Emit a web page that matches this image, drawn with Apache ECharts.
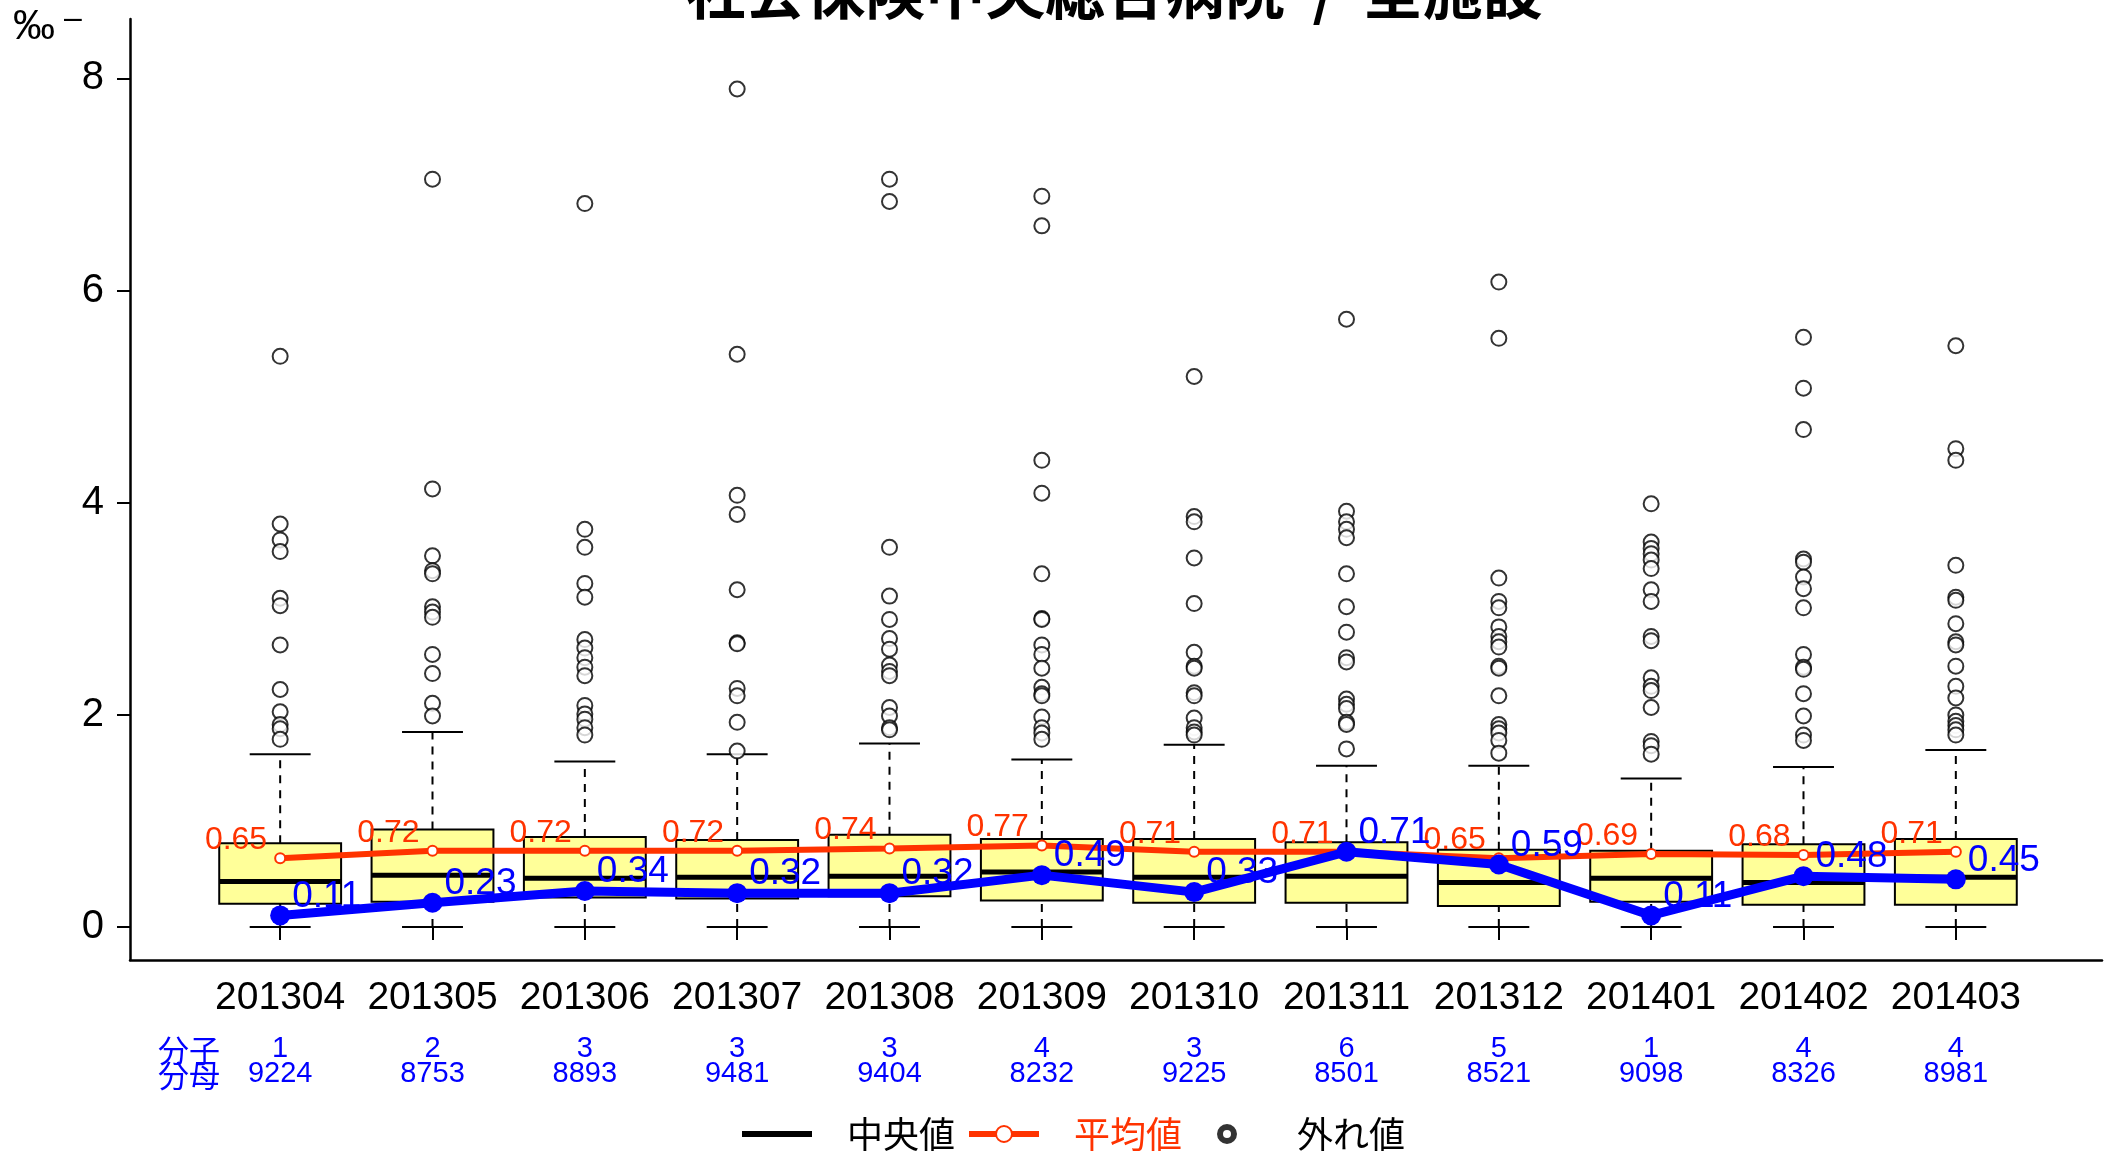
<!DOCTYPE html>
<html>
<head>
<meta charset="utf-8">
<script src="https://cdn.jsdelivr.net/npm/echarts@6/dist/echarts.min.js"></script>
<style>
html,body{margin:0;padding:0;background:#fff;}
#chart{width:2109px;height:1155px;}
</style>
</head>
<body>
<div id="chart"></div>
<script>
// ---- data ----
const categories = ['201304','201305','201306','201307','201308','201309','201310','201311','201312','201401','201402','201403'];
const numerators = [1,2,3,3,3,4,3,6,5,1,4,4];
const denominators = [9224,8753,8893,9481,9404,8232,9225,8501,8521,9098,8326,8981];
const whiskerLow = [0,0,0,0,0,0,0,0,0,0,0,0];
const q1Values = [0.22,0.24,0.28,0.27,0.29,0.25,0.23,0.23,0.20,0.24,0.21,0.21];
const medianValues = [0.43,0.49,0.46,0.47,0.48,0.52,0.47,0.48,0.42,0.46,0.42,0.47];
const q3Values = [0.79,0.92,0.85,0.82,0.87,0.83,0.83,0.80,0.73,0.72,0.78,0.83];
const whiskerHigh = [1.63,1.84,1.56,1.63,1.73,1.58,1.72,1.52,1.52,1.40,1.51,1.67];
const meanValues = [0.65,0.72,0.72,0.72,0.74,0.77,0.71,0.71,0.65,0.69,0.68,0.71];
const hospitalValues = [0.11,0.23,0.34,0.32,0.32,0.49,0.33,0.71,0.59,0.11,0.48,0.45];
const outlierValues = [
  [5.38,3.80,3.65,3.54,3.10,3.03,2.66,2.24,2.03,1.91,1.87,1.77],
  [7.05,4.13,3.50,3.36,3.33,3.02,2.97,2.92,2.57,2.39,2.11,1.99],
  [6.82,3.75,3.58,3.24,3.11,2.71,2.63,2.54,2.45,2.37,2.09,2.01,1.96,1.88,1.81],
  [7.90,5.40,4.07,3.89,3.18,2.68,2.67,2.25,2.18,1.93,1.66],
  [7.05,6.84,3.58,3.12,2.90,2.72,2.62,2.47,2.41,2.37,2.07,1.99,1.88,1.86],
  [6.89,6.61,4.40,4.09,3.33,2.91,2.90,2.66,2.57,2.44,2.26,2.20,2.18,1.98,1.88,1.83,1.77],
  [5.19,3.87,3.82,3.48,3.05,2.59,2.46,2.44,2.21,2.18,1.97,1.88,1.84,1.81],
  [5.73,3.92,3.82,3.75,3.67,3.33,3.02,2.78,2.54,2.50,2.15,2.10,2.06,1.93,1.91,1.68],
  [6.08,5.55,3.29,3.07,3.01,2.83,2.74,2.69,2.64,2.46,2.44,2.18,1.91,1.87,1.83,1.76,1.64],
  [3.99,3.63,3.57,3.52,3.46,3.38,3.18,3.07,2.74,2.70,2.35,2.27,2.23,2.07,1.75,1.71,1.63],
  [5.56,5.08,4.69,3.47,3.44,3.30,3.19,3.01,2.57,2.45,2.43,2.20,1.99,1.81,1.76],
  [5.48,4.51,4.40,3.41,3.11,3.08,2.86,2.69,2.66,2.46,2.27,2.16,2.00,1.94,1.90,1.86,1.81]
];
const yTickValues = [0,2,4,6,8];
const titleText = '社会保険中央総合病院  /  全施設';

// ---- build ----
const boxData = categories.map((c, i) => [i, whiskerLow[i], q1Values[i], medianValues[i], q3Values[i], whiskerHigh[i]]);
const outlierData = [];
outlierValues.forEach((arr, i) => arr.forEach(v => outlierData.push([i, v])));

const LATIN = "'Liberation Sans', Arial, 'Noto Sans CJK JP', sans-serif";
const CJK = "'Noto Sans CJK JP', 'Noto Sans CJK SC', sans-serif";
const RED = '#FF3300';
const BLUE = '#0000FF';
const RING = 'path://M0,10 A10,10 0 1,1 20,10 A10,10 0 1,1 0,10 Z M6,10 A4,4 0 1,0 14,10 A4,4 0 1,0 6,10 Z';
const legendText = {fontSize: 36, fontFamily: CJK, color: '#000', padding: [0, 0, 0, 30]};

const chart = echarts.init(document.getElementById('chart'), null, {renderer: 'canvas'});
chart.setOption({
  animation: false,
  backgroundColor: '#fff',
  grid: [
    {left: 204, right: 77, top: 19, bottom: 195},
    {left: 130, right: 7, top: 19, bottom: 195}
  ],
  xAxis: [
    {
      type: 'category', gridIndex: 0, data: categories, boundaryGap: true,
      axisLine: {show: false},
      axisTick: {show: true, alignWithLabel: true, length: 13, lineStyle: {color: '#000', width: 2}},
      axisLabel: {
        interval: 0, margin: 19, fontFamily: LATIN,
        formatter: (v, i) => `{cat|${v}}\n{sp| }\n{num|${numerators[i]}}\n{den|${denominators[i]}}`,
        rich: {
          cat: {fontSize: 39, lineHeight: 38, color: '#000', fontFamily: LATIN},
          sp: {fontSize: 10, lineHeight: 19},
          num: {fontSize: 29, lineHeight: 25, color: BLUE, fontFamily: LATIN},
          den: {fontSize: 29, lineHeight: 25, color: BLUE, fontFamily: LATIN}
        }
      },
      splitLine: {show: false}
    },
    {
      type: 'value', gridIndex: 1, min: 0, max: 1,
      axisLine: {show: true, onZero: false, lineStyle: {color: '#000', width: 2.5}},
      axisTick: {show: false}, axisLabel: {show: false}, splitLine: {show: false}
    }
  ],
  yAxis: [
    {
      type: 'value', gridIndex: 0, min: -0.31, max: 8.56, offset: 74,
      axisLine: {show: true, lineStyle: {color: '#000', width: 2.5}},
      axisTick: {show: true, length: 13, customValues: yTickValues, lineStyle: {color: '#000', width: 2}},
      axisLabel: {show: true, margin: 26, fontSize: 40, color: '#000', fontFamily: LATIN, customValues: yTickValues},
      splitLine: {show: false}
    },
    {
      type: 'value', gridIndex: 1, min: 0, max: 1, show: false
    }
  ],
  legend: [
    {
      left: 742, top: 1116, padding: 0, orient: 'horizontal',
      itemWidth: 70, itemHeight: 20, itemGap: 11, selectedMode: false,
      textStyle: legendText,
      data: [
        {name: '中央値', icon: 'path://M0 0H70V6H0Z', itemStyle: {color: '#000'},
          textStyle: Object.assign({}, legendText, {color: '#000'})},
        {name: '平均値', lineStyle: {width: 6, color: RED}, itemStyle: {borderWidth: 5, borderColor: RED},
          textStyle: Object.assign({}, legendText, {color: RED})}
      ]
    },
    {
      left: 1217, top: 1116, padding: 0, orient: 'horizontal',
      itemWidth: 70, itemHeight: 20, itemGap: 11, selectedMode: false,
      textStyle: legendText,
      data: [
        {name: '外れ値', icon: RING, itemStyle: {color: '#000', borderWidth: 0},
          textStyle: Object.assign({}, legendText, {color: '#000'})}
      ]
    }
  ],
  graphic: [
    {type: 'text', x: 1114, y: -9, style: {text: titleText, fill: '#000', fontSize: 60, fontWeight: 'bold', fontFamily: CJK, align: 'center', verticalAlign: 'middle'}},
    {type: 'text', x: 13, y: 27, style: {text: '‰', fill: '#000', fontSize: 42, fontFamily: LATIN, align: 'left', verticalAlign: 'middle'}},
    {type: 'text', x: 73, y: 19, style: {text: '–', fill: '#000', fontSize: 32, fontFamily: LATIN, align: 'center', verticalAlign: 'middle'}},
    {type: 'text', x: 189, y: 1050, style: {text: '分子', fill: BLUE, fontSize: 31, fontFamily: CJK, align: 'center', verticalAlign: 'middle'}},
    {type: 'text', x: 189, y: 1075, style: {text: '分母', fill: BLUE, fontSize: 31, fontFamily: CJK, align: 'center', verticalAlign: 'middle'}}
  ],
  series: [
    {
      name: '中央値', type: 'custom', xAxisIndex: 0, yAxisIndex: 0,
      itemStyle: {color: '#000'},
      data: boxData,
      encode: {x: 0, y: [1, 2, 3, 4, 5]},
      renderItem: function (params, api) {
        const i = api.value(0);
        const lo = api.coord([i, api.value(1)]);
        const q1 = api.coord([i, api.value(2)]);
        const md = api.coord([i, api.value(3)]);
        const q3 = api.coord([i, api.value(4)]);
        const hi = api.coord([i, api.value(5)]);
        const bw = api.size([1, 0])[0] * 0.8;
        const x = lo[0];
        const dashed = {stroke: '#000', lineWidth: 2, lineDash: [8, 7]};
        const solid = {stroke: '#000', lineWidth: 2};
        return {
          type: 'group',
          children: [
            {type: 'line', shape: {x1: x, y1: q3[1], x2: x, y2: hi[1]}, style: dashed},
            {type: 'line', shape: {x1: x, y1: lo[1], x2: x, y2: q1[1]}, style: dashed},
            {type: 'line', shape: {x1: x - bw / 4, y1: hi[1], x2: x + bw / 4, y2: hi[1]}, style: solid},
            {type: 'line', shape: {x1: x - bw / 4, y1: lo[1], x2: x + bw / 4, y2: lo[1]}, style: solid},
            {type: 'rect', shape: {x: x - bw / 2, y: q3[1], width: bw, height: q1[1] - q3[1]}, style: {fill: '#FFFF99', stroke: '#000', lineWidth: 2}},
            {type: 'line', shape: {x1: x - bw / 2, y1: md[1], x2: x + bw / 2, y2: md[1]}, style: {stroke: '#000', lineWidth: 5}}
          ]
        };
      },
      z: 1
    },
    {
      name: '平均値', type: 'line', xAxisIndex: 0, yAxisIndex: 0,
      data: meanValues,
      symbol: 'emptyCircle', symbolSize: 10,
      lineStyle: {color: RED, width: 6},
      itemStyle: {color: RED, borderColor: RED, borderWidth: 4.5},
      label: {
        show: true, position: 'left', distance: 7, offset: [0, -18],
        color: RED, fontSize: 32, fontFamily: LATIN,
        formatter: p => p.value.toFixed(2)
      },
      z: 3
    },
    {
      name: '当院', type: 'line', xAxisIndex: 0, yAxisIndex: 0,
      data: hospitalValues,
      symbol: 'circle', symbolSize: 20,
      lineStyle: {color: BLUE, width: 9},
      itemStyle: {color: BLUE},
      label: {
        show: true, position: 'right', distance: 2, offset: [0, -19],
        color: BLUE, fontSize: 37, fontFamily: LATIN,
        formatter: p => p.value.toFixed(2)
      },
      z: 4
    },
    {
      name: '外れ値', type: 'scatter', xAxisIndex: 0, yAxisIndex: 0,
      data: outlierData,
      symbol: 'emptyCircle', symbolSize: 15,
      itemStyle: {color: '#000', borderColor: '#000', borderWidth: 1.6},
      z: 5
    }
  ]
});
</script>
</body>
</html>
